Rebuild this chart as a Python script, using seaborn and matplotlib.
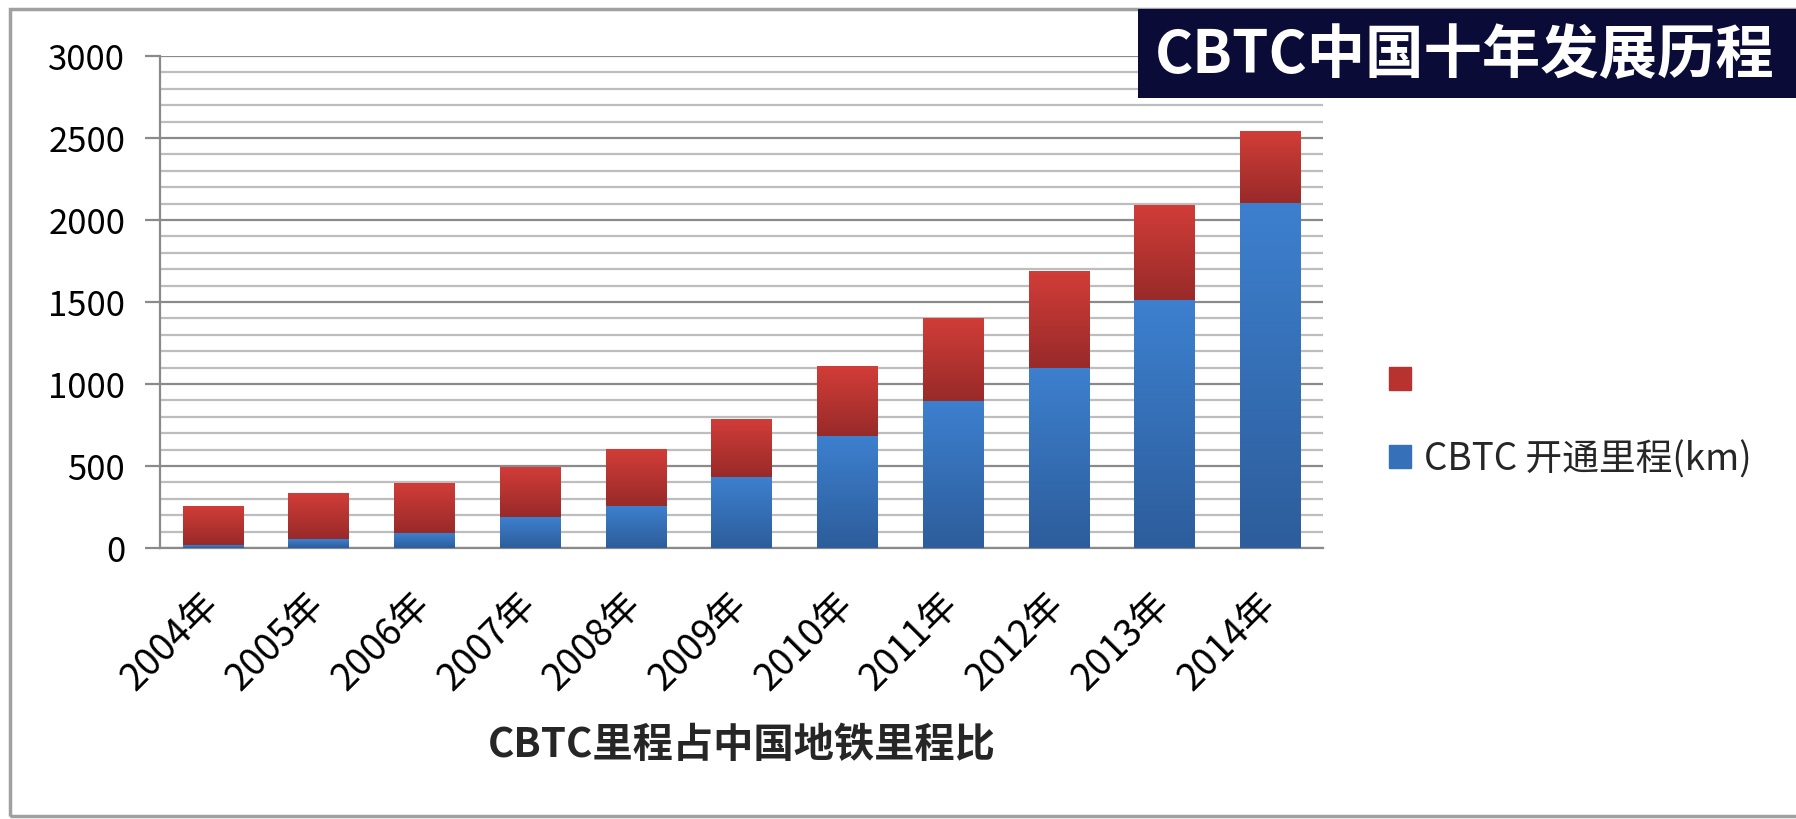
import numpy as np
import pandas as pd
import seaborn as sns
import matplotlib
matplotlib.use('Agg')
import matplotlib.pyplot as plt
from matplotlib.colors import LinearSegmentedColormap
from matplotlib.patches import Patch, Rectangle

# values (km)
years = ['2004年', '2005年', '2006年', '2007年', '2008年', '2009年',
         '2010年', '2011年', '2012年', '2013年', '2014年']
cbtc_km = [18, 52, 90, 187, 259, 430, 685, 894, 1099, 1511, 2106]
other_km = [241, 281, 306, 306, 342, 354, 423, 509, 592, 581, 437]

legend_labels = [' ', 'CBTC 开通里程(km)']
chart_title = 'CBTC中国十年发展历程'
x_title = 'CBTC里程占中国地铁里程比'

df = pd.DataFrame({'year': years, 'cbtc': cbtc_km, 'other': other_km})
df['total'] = df['cbtc'] + df['other']

sns.set_theme(style='white')
plt.rcParams['font.family'] = ['Noto Sans CJK SC', 'DejaVu Sans']

red_top, red_bot = '#d23d38', '#982a29'
blue_top, blue_bot = '#3d80cf', '#2d5d9b'

fig = plt.figure(figsize=(17.96, 8.2), dpi=100)
ax = fig.add_axes([0.0891, 0.3305, 0.6475, 0.6])

# red = total, blue drawn over the bottom part
sns.barplot(data=df, x='year', y='total', color=red_top, width=0.57,
            saturation=1, ax=ax, zorder=3)
n = len(ax.patches)
sns.barplot(data=df, x='year', y='cbtc', color=blue_top, width=0.57,
            saturation=1, ax=ax, zorder=4)
red_bars = ax.patches[:n]
blue_bars = ax.patches[n:]


def grad_fill(patch, y0, y1, top, bot, z):
    x0, w = patch.get_x(), patch.get_width()
    cm = LinearSegmentedColormap.from_list('g', [bot, top])
    img = ax.imshow(np.linspace(0, 1, 256).reshape(-1, 1), cmap=cm,
                    origin='lower', extent=[x0, x0 + w, y0, y1],
                    aspect='auto', zorder=z, interpolation='bilinear')
    img.set_clip_path(patch)
    patch.set_facecolor('none')
    patch.set_edgecolor('none')


for rb, bb, c in zip(red_bars, blue_bars, df['cbtc']):
    grad_fill(rb, c, rb.get_height(), red_top, red_bot, 3)
    grad_fill(bb, 0, bb.get_height(), blue_top, blue_bot, 4)

ax.set_xlim(-0.5, len(years) - 0.5)
ax.set_ylim(0, 3000)
ax.set_yticks(range(0, 3001, 500))
ax.set_yticks(range(0, 3001, 100), minor=True)
ax.grid(axis='y', which='minor', color='#bdbdbd', linewidth=1.6, zorder=1)
ax.grid(axis='y', which='major', color='#8a8a8a', linewidth=1.6, zorder=1)
ax.set_axisbelow(True)

for s in ['top', 'right']:
    ax.spines[s].set_visible(False)
for s in ['left', 'bottom']:
    ax.spines[s].set_color('#8a8a8a')
    ax.spines[s].set_linewidth(1.6)

ax.tick_params(axis='y', which='major', length=11, width=1.6, color='#8a8a8a',
               pad=14, labelsize=25, left=True)
ax.tick_params(axis='y', which='minor', length=0)
ax.tick_params(axis='x', length=0, pad=36, labelsize=27)
plt.setp(ax.get_xticklabels(), rotation=45, ha='right', rotation_mode='anchor',
         va='center')
for t in ax.get_yticklabels() + ax.get_xticklabels():
    t.set_color('black')

ax.set_ylabel('')
ax.set_xlabel(x_title, fontsize=29, fontweight='bold', labelpad=19)

# legend (red first, blue second)
handles = [Patch(facecolor='#b8332f', edgecolor='#b8332f'),
           Patch(facecolor='#3570b8', edgecolor='#3570b8')]
fig.legend(handles, legend_labels, loc='upper left',
           bbox_to_anchor=(0.7734, 0.5577), bbox_transform=fig.transFigure,
           frameon=False, fontsize=26.5, handlelength=0.6, handleheight=0.6,
           handletextpad=0.35, labelspacing=1.05, borderpad=0, borderaxespad=0)

# title box
fig.patches.append(Rectangle((1138 / 1796, 1 - 99 / 820), 1 - 1138 / 1796, 89 / 820,
                             transform=fig.transFigure, facecolor='#0b0b38',
                             edgecolor='none', zorder=5))
fig.text(1155 / 1796, 1 - 56 / 820, chart_title, color='white', fontsize=42,
         fontweight='bold', ha='left', va='center', zorder=6)

# outer frame
fig.patches.append(Rectangle((10 / 1796, 3 / 820), 1.2, 1 - 13 / 820,
                             transform=fig.transFigure, facecolor='none',
                             edgecolor='#a0a0a0', linewidth=2.5, zorder=0))

fig.savefig('out.png', dpi=100)
